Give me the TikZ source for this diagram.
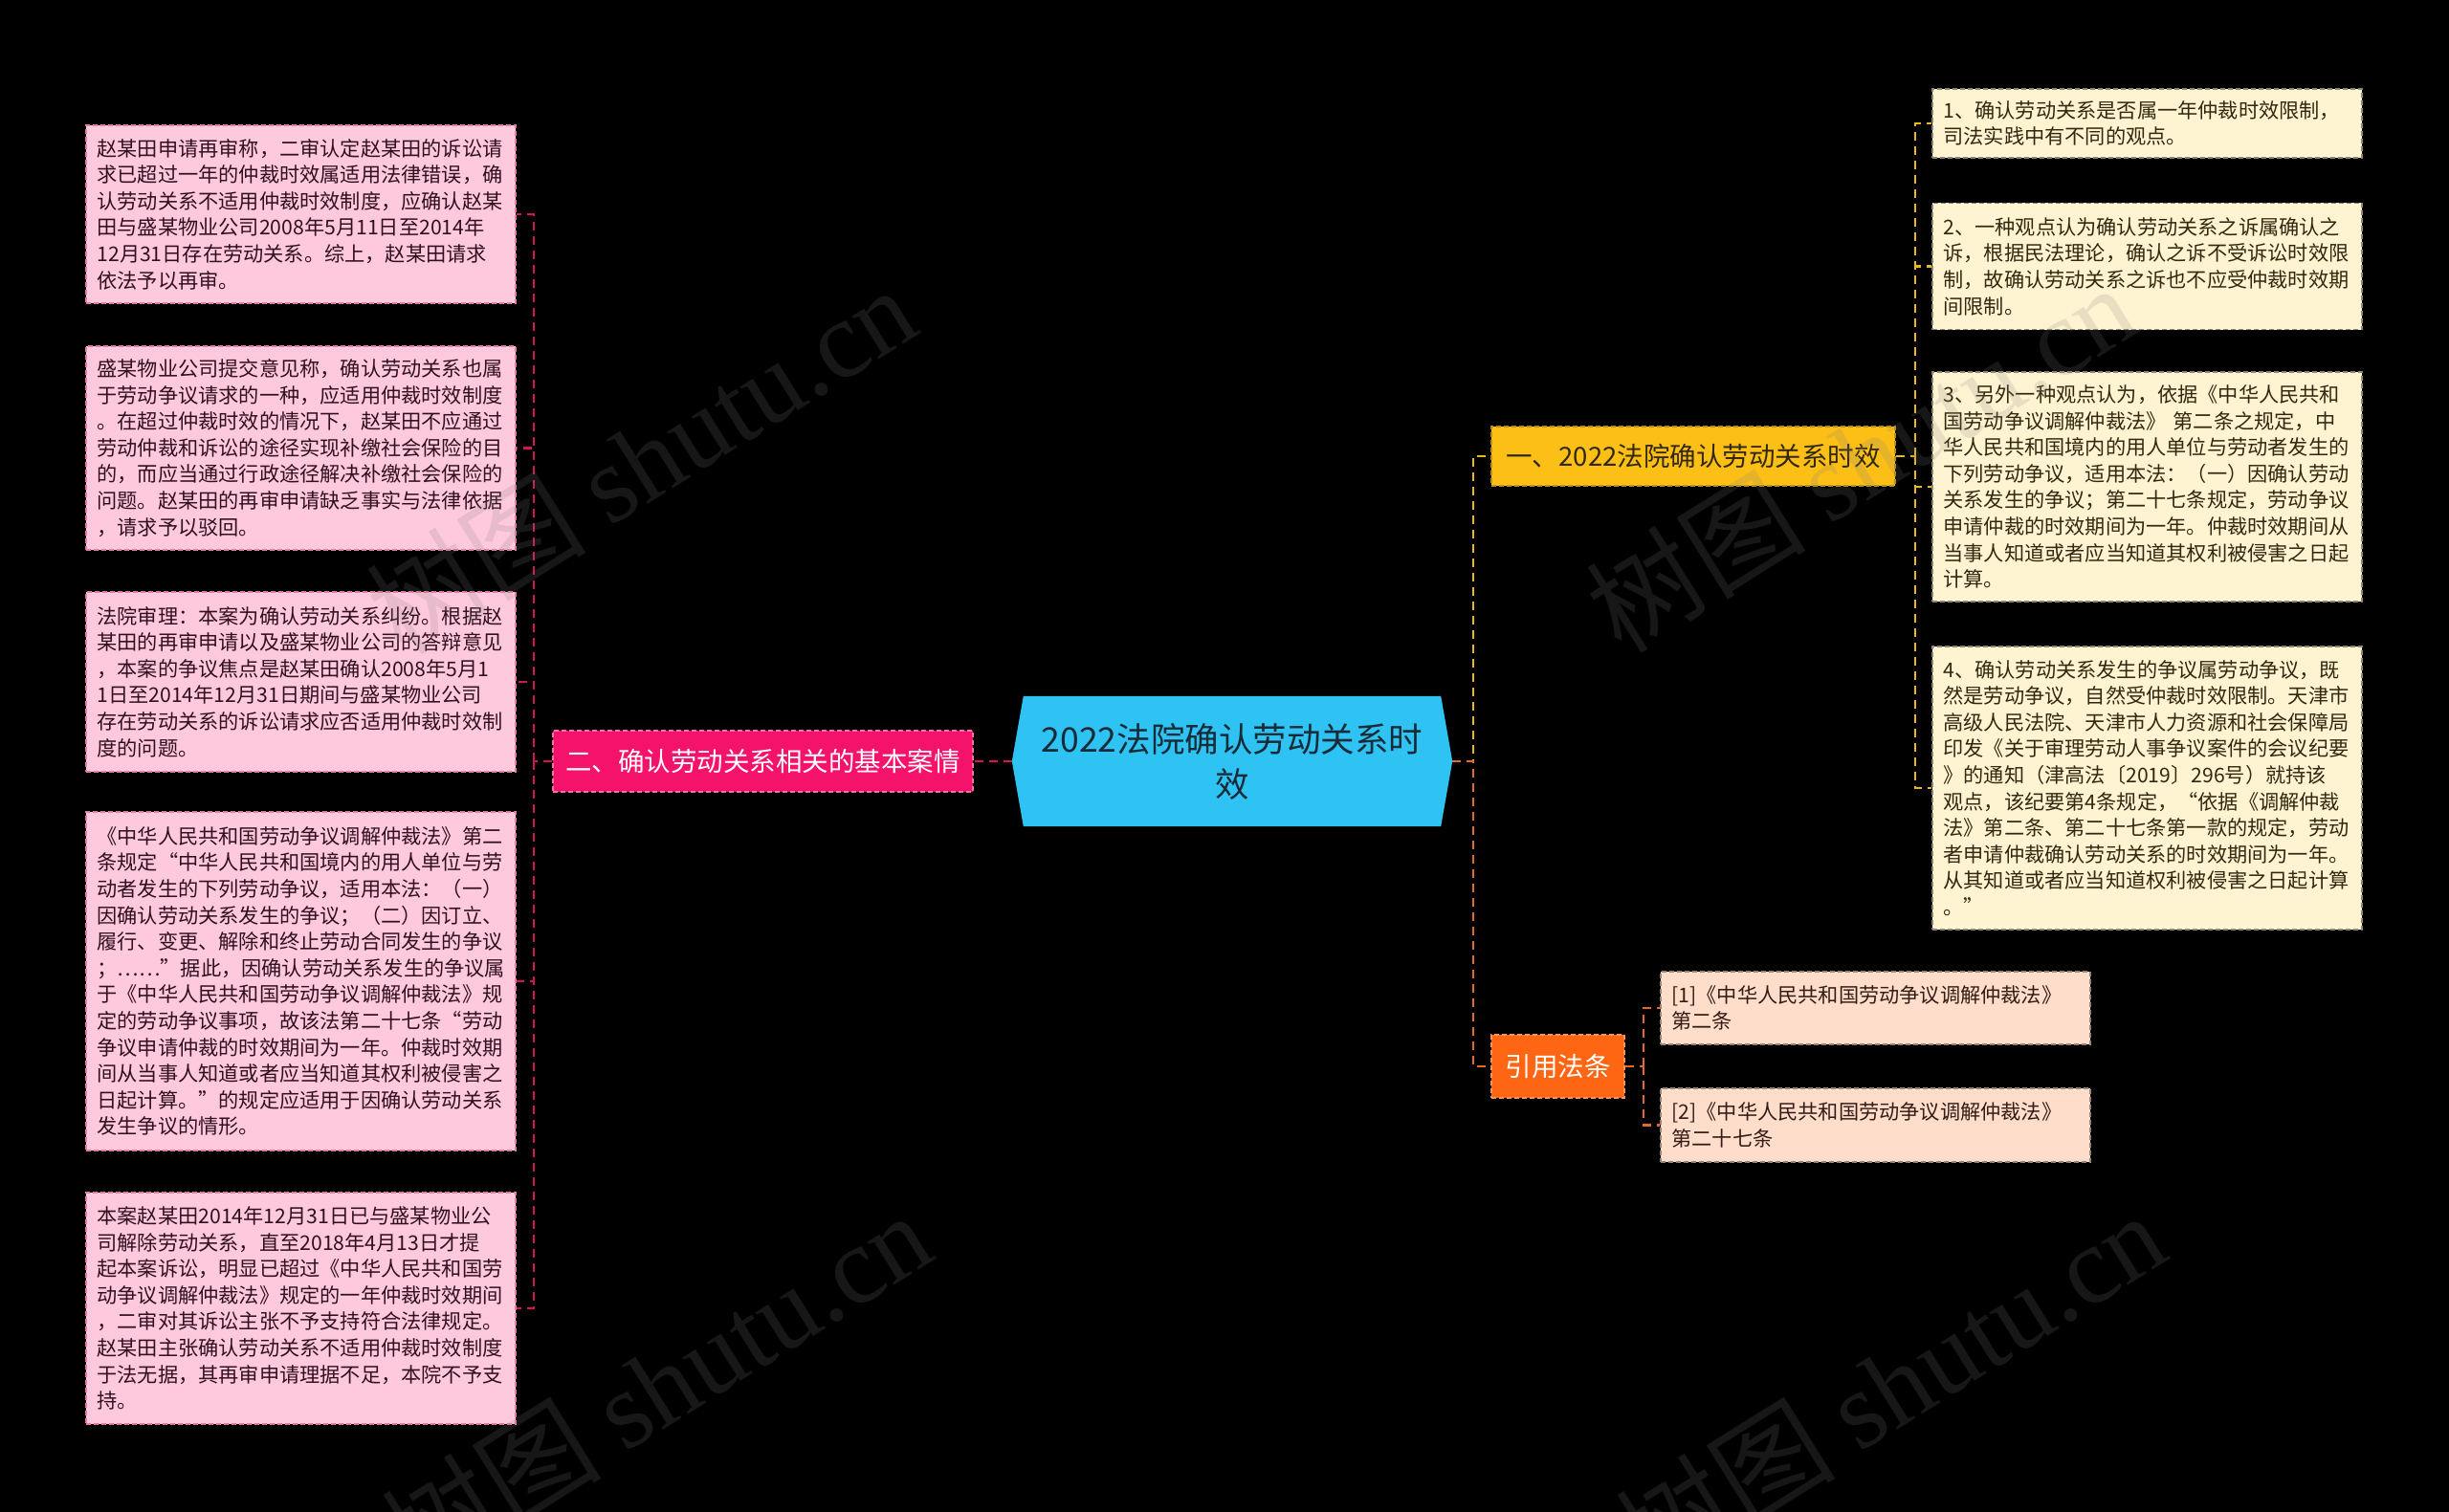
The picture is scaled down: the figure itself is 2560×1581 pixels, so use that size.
\documentclass[tikz,border=0pt]{standalone}
\usepackage{fontspec}
\setmainfont{Noto Sans CJK SC}
\newfontfamily\wmfont{Liberation Serif}
\usetikzlibrary{backgrounds}
\definecolor{rootfill}{HTML}{2EC3F2}
\definecolor{roottext}{HTML}{172B38}
\definecolor{pinkbr}{HTML}{F5126B}
\definecolor{pinkleaf}{HTML}{FFC9DD}
\definecolor{pinkline}{HTML}{D0145E}
\definecolor{pinktext}{HTML}{30101F}
\definecolor{yelbr}{HTML}{FCBF16}
\definecolor{yelleaf}{HTML}{FFF4D2}
\definecolor{yelline}{HTML}{E9B81F}
\definecolor{yeltext}{HTML}{322810}
\definecolor{orgbr}{HTML}{FF6613}
\definecolor{orgleaf}{HTML}{FFDDCB}
\definecolor{orgline}{HTML}{E6692A}
\definecolor{orgtext}{HTML}{321C14}
\tikzset{
  leafbox/.style={draw, dash pattern=on 5pt off 3pt, line width=1.3pt,
    text width=426pt, inner xsep=11.5pt, inner ysep=2pt, align=left,
    font=\fontsize{21.2}{27.6}\selectfont},
  pinkleafbox/.style={leafbox, fill=pinkleaf, draw=pinkline!45!pinkleaf, text=pinktext},
  yelleafbox/.style={leafbox, fill=yelleaf, draw=yelleaf!55!black, text=yeltext},
  refbox/.style={leafbox, fill=orgleaf, draw=orgleaf!60!black, text=orgtext},
  branchbox/.style={draw, dash pattern=on 5pt off 3pt, line width=1.3pt,
    inner xsep=8pt, inner ysep=2pt, font=\fontsize{27.5}{33}\selectfont},
  conn/.style={dash pattern=on 9pt off 6pt, line width=2.6pt},
  wm/.style={text=gray, opacity=0.18, font=\fontsize{115}{115}\selectfont, rotate=32}
}
\begin{document}
\begin{tikzpicture}[x=1pt,y=-1pt]
\useasboundingbox (0,0) rectangle (2560,1581);

% root
\node[minimum width=460pt, minimum height=136pt, inner sep=0pt, align=center,
  text=roottext, font=\fontsize{35.5}{47}\selectfont] (root) at (1288,796)
  {2022法院确认劳动关系时\\效};

% branches
\node[branchbox, fill=pinkbr, draw=pinkbr!60!white, text=white,
  minimum width=439pt, minimum height=64pt] (b2) at (797.5,796)
  {二、确认劳动关系相关的基本案情};
\node[branchbox, fill=yelbr, draw=yelbr!75!black, text=yeltext,
  minimum width=422pt, minimum height=62pt] (b1) at (1770,477)
  {一、2022法院确认劳动关系时效};
\node[branchbox, fill=orgbr, draw=orgbr!70!white, text=white,
  minimum width=139pt, minimum height=66pt] (b3) at (1628.5,1115)
  {引用法条};

% left leaves
\node[pinkleafbox, minimum height=186pt] (l1) at (314.5,224) {赵某田申请再审称，二审认定赵某田的诉讼请\\求已超过一年的仲裁时效属适用法律错误，确\\认劳动关系不适用仲裁时效制度，应确认赵某\\田与盛某物业公司2008年5月11日至2014年\\12月31日存在劳动关系。综上，赵某田请求\\依法予以再审。};
\node[pinkleafbox, minimum height=213pt] (l2) at (314.5,468.5) {盛某物业公司提交意见称，确认劳动关系也属\\于劳动争议请求的一种，应适用仲裁时效制度\\。在超过仲裁时效的情况下，赵某田不应通过\\劳动仲裁和诉讼的途径实现补缴社会保险的目\\的，而应当通过行政途径解决补缴社会保险的\\问题。赵某田的再审申请缺乏事实与法律依据\\，请求予以驳回。};
\node[pinkleafbox, minimum height=188pt] (l3) at (314.5,713) {法院审理：本案为确认劳动关系纠纷。根据赵\\某田的再审申请以及盛某物业公司的答辩意见\\，本案的争议焦点是赵某田确认2008年5月1\\1日至2014年12月31日期间与盛某物业公司\\存在劳动关系的诉讼请求应否适用仲裁时效制\\度的问题。};
\node[pinkleafbox, minimum height=354pt] (l4) at (314.5,1026) {《中华人民共和国劳动争议调解仲裁法》第二\\条规定“中华人民共和国境内的用人单位与劳\\动者发生的下列劳动争议，适用本法：（一）\\因确认劳动关系发生的争议；（二）因订立、\\履行、变更、解除和终止劳动合同发生的争议\\；……”据此，因确认劳动关系发生的争议属\\于《中华人民共和国劳动争议调解仲裁法》规\\定的劳动争议事项，故该法第二十七条“劳动\\争议申请仲裁的时效期间为一年。仲裁时效期\\间从当事人知道或者应当知道其权利被侵害之\\日起计算。”的规定应适用于因确认劳动关系\\发生争议的情形。};
\node[pinkleafbox, minimum height=242pt] (l5) at (314.5,1368) {本案赵某田2014年12月31日已与盛某物业公\\司解除劳动关系，直至2018年4月13日才提\\起本案诉讼，明显已超过《中华人民共和国劳\\动争议调解仲裁法》规定的一年仲裁时效期间\\，二审对其诉讼主张不予支持符合法律规定。\\赵某田主张确认劳动关系不适用仲裁时效制度\\于法无据，其再审申请理据不足，本院不予支\\持。};

% right leaves
\node[yelleafbox, minimum height=72pt] (rb1) at (2244.5,129) {1、确认劳动关系是否属一年仲裁时效限制，\\司法实践中有不同的观点。};
\node[yelleafbox, minimum height=132pt] (rb2) at (2244.5,278.5) {2、一种观点认为确认劳动关系之诉属确认之\\诉，根据民法理论，确认之诉不受诉讼时效限\\制，故确认劳动关系之诉也不应受仲裁时效期\\间限制。};
\node[yelleafbox, minimum height=240pt] (rb3) at (2244.5,509) {3、另外一种观点认为，依据《中华人民共和\\国劳动争议调解仲裁法》 第二条之规定，中\\华人民共和国境内的用人单位与劳动者发生的\\下列劳动争议，适用本法：（一）因确认劳动\\关系发生的争议；第二十七条规定，劳动争议\\申请仲裁的时效期间为一年。仲裁时效期间从\\当事人知道或者应当知道其权利被侵害之日起\\计算。};
\node[yelleafbox, minimum height=296pt] (rb4) at (2244.5,824) {4、确认劳动关系发生的争议属劳动争议，既\\然是劳动争议，自然受仲裁时效限制。天津市\\高级人民法院、天津市人力资源和社会保障局\\印发《关于审理劳动人事争议案件的会议纪要\\》的通知（津高法〔2019〕296号）就持该\\观点，该纪要第4条规定，“依据《调解仲裁\\法》第二条、第二十七条第一款的规定，劳动\\者申请仲裁确认劳动关系的时效期间为一年。\\从其知道或者应当知道权利被侵害之日起计算\\。”};

% references
\node[refbox, minimum height=76pt] (r1) at (1960.5,1054) {[1]《中华人民共和国劳动争议调解仲裁法》\\第二条};
\node[refbox, minimum height=77pt] (r2) at (1960.5,1176.5) {[2]《中华人民共和国劳动争议调解仲裁法》\\第二十七条};

% background + root shape
\begin{scope}[on background layer]
\fill[black] (0,0) rectangle (2560,1581);
\fill[rootfill] ([xshift=12pt]root.north west) -- ([xshift=-12pt]root.north east)
  -- (root.east) -- ([xshift=-12pt]root.south east)
  -- ([xshift=12pt]root.south west) -- (root.west) -- cycle;
\end{scope}

% connectors
\coordinate (tL) at (558,796);
\coordinate (tR) at (1540,796);
\coordinate (t1) at (2002,477);
\coordinate (t3) at (1718,1115);

\draw[conn, pinkline] (root.west) -- (b2.east);
\draw[conn, pinkline] (b2.west) -- (tL);
\foreach \n in {l1,l2,l3,l4,l5} \draw[conn, pinkline] (tL) |- (\n.east);

\draw[conn, yelline] (root.east) -- (tR) |- (b1.west);
\draw[conn, orgline] (root.east) -- (tR) |- (b3.west);

\draw[conn, yelline] (b1.east) -- (t1);
\foreach \n in {rb1,rb2,rb3,rb4} \draw[conn, yelline] (t1) |- (\n.west);

\draw[conn, orgline] (b3.east) -- (t3);
\foreach \n in {r1,r2} \draw[conn, orgline] (t3) |- (\n.west);

% watermarks
\node[wm] (wm1) at (670,480) {树图 {\wmfont shutu.cn}};
\node[wm] (wm2) at (1945,478) {树图 {\wmfont shutu.cn}};
\node[wm] (wm3) at (686,1448) {树图 {\wmfont shutu.cn}};
\node[wm] (wm4) at (1976,1448) {树图 {\wmfont shutu.cn}};
\end{tikzpicture}
\end{document}
